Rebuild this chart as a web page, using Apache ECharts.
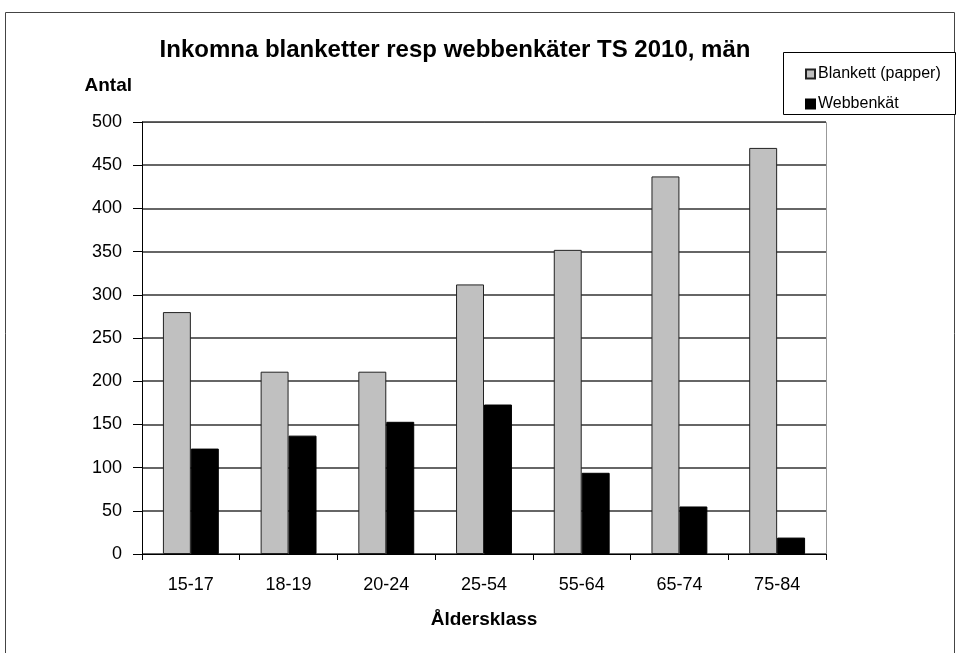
<!DOCTYPE html>
<html>
<head>
<meta charset="utf-8">
<script src="https://cdn.jsdelivr.net/npm/echarts@6/dist/echarts.min.js"></script>
<style>
  html, body { margin: 0; padding: 0; background: #fff; }
  #chart { width: 960px; height: 653px; }
</style>
</head>
<body>
<div id="chart"></div>
<script>
// data
var categories = ['15-17', '18-19', '20-24', '25-54', '55-64', '65-74', '75-84'];
var blankett = [280, 211, 211, 312, 352, 437, 470];
var webb = [122, 137, 153, 173, 94, 55, 19];
var seriesNames = ['Blankett (papper)', 'Webbenkät'];

var font = 'Liberation Sans, Arial, sans-serif';

echarts.init(document.querySelector('#chart')).setOption({
    animation: false,
    textStyle: { fontFamily: font },
    title: {
        text: 'Inkomna blanketter resp webbenkäter TS 2010, män',
        left: 450,
        textAlign: 'center',
        top: 33,
        textStyle: { fontSize: 24, fontWeight: 'bold', color: '#000', fontFamily: font }
    },
    graphic: [
        { // outer frame
            type: 'rect', shape: { x: 5.5, y: 12.5, width: 949, height: 700 },
            style: { fill: 'none', stroke: '#444', lineWidth: 1 }, z: -1
        },
        { // legend box
            type: 'rect', shape: { x: 783.5, y: 52.5, width: 172, height: 62 },
            style: { fill: '#fff', stroke: '#000', lineWidth: 1 }, z: 1
        },
        { // plot area frame (top and right)
            type: 'polyline', shape: { points: [[142, 122.5], [826.5, 122.5], [826.5, 554]] },
            style: { stroke: '#999', lineWidth: 1, fill: 'none' }
        }
    ],
    legend: {
        orient: 'vertical',
        left: 800,
        top: 61,
        icon: 'rect',
        itemWidth: 9,
        itemHeight: 9,
        itemGap: 14,
        z: 5,
        textStyle: { fontSize: 16, color: '#000', padding: [0, 0, 0, -2] },
        data: seriesNames
    },
    grid: { left: 142, top: 122, right: 134, bottom: 99 },
    xAxis: {
        type: 'category',
        data: categories,
        name: 'Åldersklass',
        nameLocation: 'middle',
        nameGap: 56,
        nameTextStyle: { fontSize: 19, fontWeight: 'bold', color: '#000' },
        axisLine: { lineStyle: { color: '#000', width: 1 } },
        axisTick: { show: true, length: 6, lineStyle: { color: '#000' } },
        axisLabel: { fontSize: 18, color: '#000', margin: 22 }
    },
    yAxis: {
        type: 'value',
        min: 0,
        max: 500,
        interval: 50,
        name: 'Antal',
        nameLocation: 'end',
        nameGap: 27,
        nameTextStyle: { fontSize: 19, fontWeight: 'bold', color: '#000', align: 'right', padding: [0, 10, 0, 0] },
        axisLine: { show: true, lineStyle: { color: '#000', width: 1 } },
        axisTick: { show: true, length: 9, lineStyle: { color: '#000' } },
        axisLabel: { fontSize: 18, color: '#000', margin: 20 },
        splitLine: { lineStyle: { color: '#333', width: 1.5 } }
    },
    series: [
        {
            name: seriesNames[0],
            type: 'bar',
            data: blankett,
            barGap: '0%',
            barCategoryGap: '42.8%',
            itemStyle: { color: '#c0c0c0', borderColor: '#222', borderWidth: 1 }
        },
        {
            name: seriesNames[1],
            type: 'bar',
            data: webb,
            itemStyle: { color: '#000', borderColor: '#000', borderWidth: 1 }
        }
    ]
});
</script>
</body>
</html>
